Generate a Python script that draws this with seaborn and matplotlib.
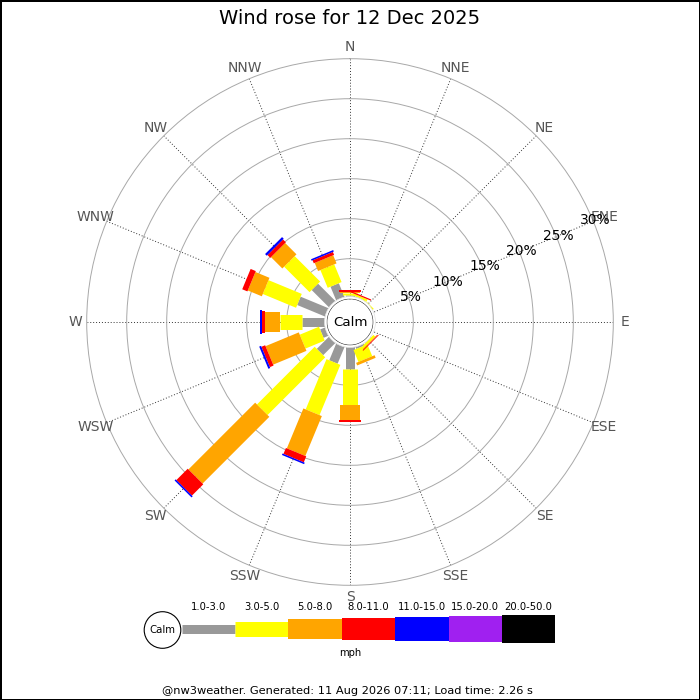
import numpy as np
import pandas as pd
import matplotlib
matplotlib.use("Agg")
import matplotlib.pyplot as plt
from matplotlib.patches import Circle
import seaborn as sns

sns.set_style("white")
plt.rcParams["font.family"] = ["DejaVu Sans"]
plt.rcParams["text.color"] = "black"

# --- data (percent of time per direction and speed band) ---
directions = ["N", "NNE", "NE", "ENE", "E", "ESE", "SE", "SSE",
              "S", "SSW", "SW", "WSW", "W", "WNW", "NW", "NNW"]
bands = ["1.0-3.0", "3.0-5.0", "5.0-8.0", "8.0-11.0", "11.0-15.0", "15.0-20.0", "20.0-50.0"]
band_colors = ["#999999", "#ffff00", "#ffa500", "#ff0000", "#0000ff", "#a020f0", "#000000"]
band_px = [9, 15, 20, 22, 24, 26, 28]  # bar thickness in pixels

pct_1_3 = [0.5, 0.3, 0.1, 0, 0, 0, 0.3, 0.5, 2.9, 2.5, 2.4, 0.9, 3.1, 4.0, 3.3, 2.1]
pct_3_5 = [0.2, 0.25, 0.25, 0, 0, 0, 0.3, 1.6, 4.6, 6.8, 10.2, 2.6, 2.8, 4.5, 4.5, 2.4]
pct_5_8 = [0.1, 0, 0, 0, 0, 0, 0.1, 0.35, 1.8, 5.4, 11.8, 4.5, 1.8, 1.9, 2.0, 1.1]
pct_8_11 = [0.3, 0.15, 0, 0, 0, 0, 0.1, 0, 0.3, 0.8, 2.0, 0.5, 0.4, 0.7, 0.5, 0.4]
pct_11_15 = [0, 0, 0, 0, 0, 0, 0, 0, 0, 0.2, 0.2, 0.25, 0.2, 0, 0.3, 0.2]
pct_15_20 = [0] * 16
pct_20_50 = [0] * 16
ring_ticks = [5, 10, 15, 20, 25, 30]

title = "Wind rose for 12 Dec 2025"
footer = "@nw3weather. Generated: 11 Aug 2026 07:11; Load time: 2.26 s"

# --- build long table of segments ---
table = np.array([pct_1_3, pct_3_5, pct_5_8, pct_8_11, pct_11_15, pct_15_20, pct_20_50])
cum = np.cumsum(table, axis=0)
theta = np.deg2rad(np.arange(16) * 22.5)
rows = []
for b in range(len(bands)):
    for d in range(16):
        if table[b, d] <= 0:
            continue
        start = cum[b, d] - table[b, d]
        seg = f"{directions[d]}_{b}"
        rows.append({"theta": theta[d], "r": start, "band": bands[b], "seg": seg})
        rows.append({"theta": theta[d], "r": cum[b, d], "band": bands[b], "seg": seg})
df = pd.DataFrame(rows)

fig = plt.figure(figsize=(7, 7), dpi=100)
fig.patch.set_facecolor("white")
fig.patch.set_edgecolor("black")
fig.patch.set_linewidth(2)

px_per_pct = 8.0
hole_px = 23.3
rmax = 30
rad_px = hole_px + rmax * px_per_pct
cx, cy = 350, 322
ax = fig.add_axes([(cx - rad_px) / 700, (700 - cy - rad_px) / 700,
                   2 * rad_px / 700, 2 * rad_px / 700], projection="polar")
ax.set_theta_zero_location("N")
ax.set_theta_direction(-1)
ax.set_rorigin(-hole_px / px_per_pct)
ax.set_ylim(0, rmax)
ax.spines["polar"].set_visible(False)

ax.set_xticks(theta)
ax.set_xticklabels([])
ax.set_yticks(ring_ticks)
ax.set_yticklabels([])
ax.xaxis.grid(True, color="#333333", linestyle=(0, (1, 2)), linewidth=0.7)
ax.yaxis.grid(True, color="#a8a8a8", linestyle="-", linewidth=0.7)
for gl in ax.yaxis.get_gridlines():
    gl.set_clip_on(False)

lw = {b: px * 0.72 for b, px in zip(bands, band_px)}
sns.lineplot(data=df, x="theta", y="r", hue="band", size="band", units="seg",
             estimator=None, sort=False, palette=dict(zip(bands, band_colors)),
             sizes=lw, hue_order=bands, size_order=bands, legend=False,
             solid_capstyle="butt", ax=ax, zorder=3)
ax.set_xlabel("")
ax.set_ylabel("")

# calm circle
ax.add_artist(Circle((cx / 700, 1 - cy / 700), 25.5 / 700, transform=fig.transFigure,
                     facecolor="white", edgecolor="#e0e0e0", linewidth=0.5, zorder=5))
fig.text(cx / 700, 1 - cy / 700, "Calm", ha="center", va="center", fontsize=9.6, zorder=6)

label_r = (275 - hole_px) / px_per_pct
for t, name in zip(theta, directions):
    ax.text(t, label_r, name, ha="center", va="center", fontsize=10, color="#555555")
for v in ring_ticks:
    ax.text(np.deg2rad(67.5), v + 0.3, f"{v}%", ha="center", va="center", fontsize=10,
            color="black", zorder=4)

fig.text(0.5, 1 - 18 / 700, title, ha="center", va="center", fontsize=14)

# --- legend strip ---
lg = fig.add_axes([140 / 700, 40 / 700, 430 / 700, 65 / 700])
lg.set_xlim(140, 570)
lg.set_ylim(660, 595)
lg.axis("off")
x0 = 181.5
seg_len = 53.4
ly = 629.5
for i, (b, c, px) in enumerate(zip(bands, band_colors, band_px)):
    xa = x0 + i * seg_len
    lg.plot([xa, xa + seg_len], [ly, ly], color=c, linewidth=px * 0.72, solid_capstyle="butt")
    lg.text(xa + seg_len / 2, 607, b, ha="center", va="center", fontsize=7.2)
lg.add_patch(Circle((162.5, 630), 18.3, facecolor="white", edgecolor="black", linewidth=0.8, zorder=4))
lg.text(162.5, 630, "Calm", ha="center", va="center", fontsize=7.3, zorder=5)
lg.text(350.5, 653.5, "mph", ha="center", va="center", fontsize=7.2)

fig.text(347.5 / 700, 1 - 691.5 / 700, footer, ha="center", va="center", fontsize=8.2)

fig.savefig("out.png", dpi=100, facecolor=fig.get_facecolor(), edgecolor=fig.get_edgecolor())
